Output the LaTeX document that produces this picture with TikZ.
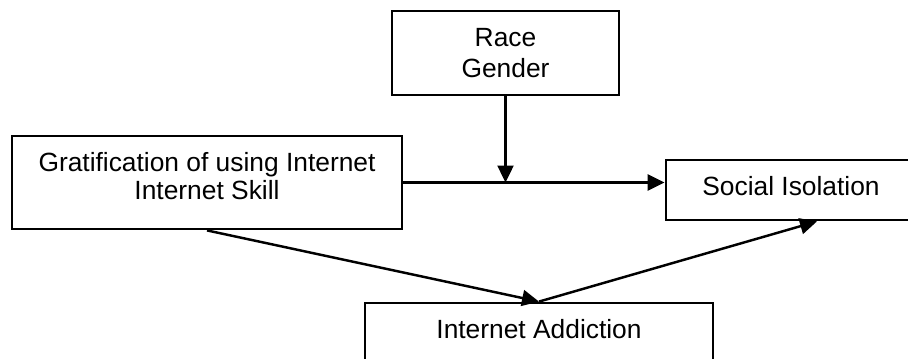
\documentclass[tikz,border=0pt]{standalone}
\usepackage{fontspec}
\setmainfont{Liberation Sans}
\usetikzlibrary{arrows.meta,calc}
\tikzset{
	box/.style={draw, rectangle, line width=1.6pt, align=center, inner sep=0pt,
		font=\fontsize{15}{14.2}\selectfont},
	link/.style={line width=1.4pt, -{Triangle[length=0.34cm,width=0.32cm]}}
}

\begin{document}
\begin{tikzpicture}
		%%%%% START %%%%%
		
		\useasboundingbox (0, 0) rectangle (18.16, -7.16);
		\clip (0, 0) rectangle (18.16, -7.16);
		
		\node[box, minimum width=4.54cm, minimum height=1.68cm, text depth=0pt] (race) at (10.11, -1.06) {Race\\[3.4pt]Gender};
		\node[box, minimum width=7.8cm, minimum height=1.86cm, text depth=0.27cm] (grat) at (4.14, -3.65) {Gratification of using Internet\\[1.5pt]Internet Skill};
		\node[box, minimum width=5.0cm, minimum height=1.2cm, text height=0.39cm, text depth=0.19cm] (social) at (15.82, -3.8) {Social Isolation};
		\node[box, minimum width=6.96cm, minimum height=1.52cm, text height=0.39cm, text depth=0.51cm] (addict) at (10.78, -6.82) {Internet Addiction};
		
		\draw[link] (race.south) -- (race.south |- grat.east);
		\draw[link] (grat.east) -- (grat.east -| social.west);
		
		\draw[link] (grat.south) -- (addict.north);
		\draw[link] (addict.north) -- ($(social.south)+(0.52, 0)$);
		
		%%%%% END %%%%%
\end{tikzpicture}
\end{document}
